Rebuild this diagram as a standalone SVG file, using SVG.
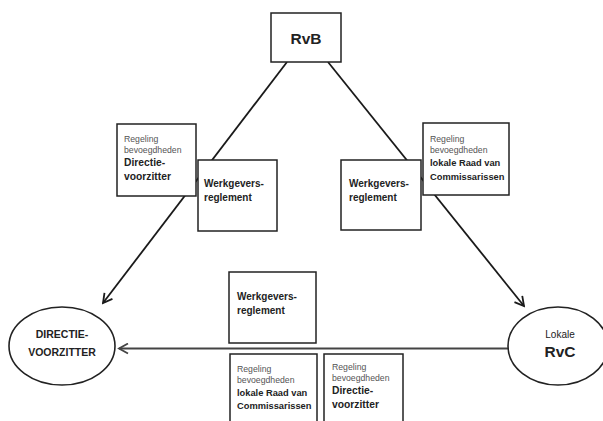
<svg xmlns="http://www.w3.org/2000/svg" width="603" height="421" viewBox="0 0 603 421">
<defs>
<style>
.box{fill:#fff;stroke:#222;stroke-width:1.5}
.ell{fill:#fff;stroke:#222;stroke-width:1.6}
.line{stroke:#1a1a1a;stroke-width:1.8;fill:none}
.hline{stroke:#444;stroke-width:2;fill:none}
text{font-family:"Liberation Sans",Arial,sans-serif;fill:#222}
.b{font-weight:bold;font-size:10px}
.s{font-size:8.7px;fill:#555}
.sb{font-weight:bold;font-size:9.3px}
.big{font-weight:bold;font-size:15.5px}
</style>
<marker id="arr" markerWidth="12" markerHeight="12" refX="10" refY="5" orient="auto" markerUnits="userSpaceOnUse" viewBox="0 0 12 10">
<path d="M1,0 L10,5 L1,10" fill="none" stroke="#1a1a1a" stroke-width="1.8"/>
</marker>
<marker id="arrg" markerWidth="12" markerHeight="12" refX="10" refY="5" orient="auto" markerUnits="userSpaceOnUse" viewBox="0 0 12 10">
<path d="M1,0 L10,5 L1,10" fill="none" stroke="#444" stroke-width="1.8"/>
</marker>
</defs>
<rect width="603" height="421" fill="#fff"/>
<g id="connectors">
<line class="line" x1="287" y1="62" x2="103" y2="303" marker-end="url(#arr)"/>
<line class="line" x1="328" y1="62" x2="524" y2="306" marker-end="url(#arr)"/>
<line class="hline" x1="508" y1="348.5" x2="119" y2="348.5" marker-end="url(#arrg)"/>
</g>
<g id="rvb">
<rect class="box" x="271" y="13" width="70" height="49"/>
<text class="big" x="306" y="44" text-anchor="middle">RvB</text>
</g>
<g id="regeling-left">
<rect class="box" x="117" y="124" width="79" height="72"/>
<text class="s" x="124" y="142">Regeling</text>
<text class="s" x="124" y="153">bevoegdheden</text>
<text class="b" x="124" y="166" style="font-size:10.3px">Directie-</text>
<text class="b" x="124" y="180" style="font-size:10.3px">voorzitter</text>
</g>
<g id="werkgevers-left">
<rect class="box" x="198" y="160" width="79" height="71"/>
<text class="b" x="204" y="187">Werkgevers-</text>
<text class="b" x="204" y="201">reglement</text>
</g>
<g id="werkgevers-right">
<rect class="box" x="341" y="160" width="80" height="70"/>
<text class="b" x="349" y="187">Werkgevers-</text>
<text class="b" x="349" y="201">reglement</text>
</g>
<g id="regeling-right">
<rect class="box" x="423" y="123" width="86" height="72"/>
<text class="s" x="430" y="142">Regeling</text>
<text class="s" x="430" y="153">bevoegdheden</text>
<text class="sb" x="430" y="166">lokale Raad van</text>
<text class="sb" x="430" y="180">Commissarissen</text>
</g>
<g id="directie">
<ellipse class="ell" cx="62" cy="346" rx="53" ry="39"/>
<text class="b" x="62" y="338" text-anchor="middle" style="font-size:10.5px">DIRECTIE-</text>
<text class="b" x="62" y="356" text-anchor="middle" style="font-size:10.5px">VOORZITTER</text>
</g>
<g id="rvc">
<ellipse class="ell" cx="558" cy="346" rx="50" ry="39"/>
<text x="560" y="338" text-anchor="middle" style="font-size:10px">Lokale</text>
<text class="big" x="560" y="357" text-anchor="middle">RvC</text>
</g>
<g id="werkgevers-mid">
<rect class="box" x="229" y="272" width="87" height="71"/>
<text class="b" x="237" y="300">Werkgevers-</text>
<text class="b" x="237" y="314">reglement</text>
</g>
<g id="regeling-mid-left">
<rect class="box" x="230" y="354" width="87" height="80"/>
<text class="s" x="237" y="372">Regeling</text>
<text class="s" x="237" y="383">bevoegdheden</text>
<text class="sb" x="237" y="396">lokale Raad van</text>
<text class="sb" x="237" y="409">Commissarissen</text>
</g>
<g id="regeling-mid-right">
<rect class="box" x="324" y="354" width="79" height="80"/>
<text class="s" x="332" y="370">Regeling</text>
<text class="s" x="332" y="381">bevoegdheden</text>
<text class="b" x="332" y="394" style="font-size:10.3px">Directie-</text>
<text class="b" x="332" y="408" style="font-size:10.3px">voorzitter</text>
</g>
</svg>
